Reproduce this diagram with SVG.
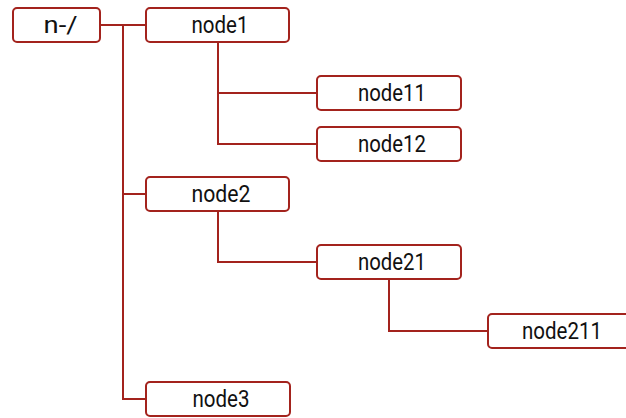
<svg xmlns="http://www.w3.org/2000/svg" width="626" height="418" viewBox="0 0 626 418">
<style>
.box{fill:#fff;stroke:#a3231d;stroke-width:2}
.lbl{font-family:Roboto,"Liberation Sans",sans-serif;font-size:23.5px;fill:#111;text-anchor:middle}
.ln{fill:none;stroke:#a3231d;stroke-width:2}
</style>
<rect width="626" height="418" fill="#fff"/>
<g id="connectors">
<path class="ln" d="M100,25 H146"/>
<path class="ln" d="M123,25 V399 H146"/>
<path class="ln" d="M123,194 H146"/>
<path class="ln" d="M218,42 V144 H317"/>
<path class="ln" d="M218,93 H317"/>
<path class="ln" d="M218,211 V262 H317"/>
<path class="ln" d="M389,279 V331 H488"/>
</g>
<g id="n-root"><rect class="box" x="13" y="8" width="87" height="34" rx="4"/><text class="lbl" x="60.5" y="33" textLength="34" lengthAdjust="spacingAndGlyphs">n-/</text></g>
<g id="node1"><rect class="box" x="146" y="8" width="143" height="34" rx="4"/><text class="lbl" x="220" y="33" textLength="57" lengthAdjust="spacingAndGlyphs">node1</text></g>
<g id="node11"><rect class="box" x="317" y="76" width="144" height="34" rx="4"/><text class="lbl" x="392" y="101" textLength="68" lengthAdjust="spacingAndGlyphs">node11</text></g>
<g id="node12"><rect class="box" x="317" y="127" width="144" height="34" rx="4"/><text class="lbl" x="392" y="152" textLength="68" lengthAdjust="spacingAndGlyphs">node12</text></g>
<g id="node2"><rect class="box" x="146" y="177" width="143" height="34" rx="4"/><text class="lbl" x="221" y="202" textLength="59" lengthAdjust="spacingAndGlyphs">node2</text></g>
<g id="node21"><rect class="box" x="317" y="245" width="144" height="34" rx="4"/><text class="lbl" x="392" y="270" textLength="68" lengthAdjust="spacingAndGlyphs">node21</text></g>
<g id="node211"><rect class="box" x="488" y="314" width="144" height="34" rx="4"/><text class="lbl" x="562" y="339" textLength="80" lengthAdjust="spacingAndGlyphs">node211</text></g>
<g id="node3"><rect class="box" x="146" y="382" width="144" height="34" rx="4"/><text class="lbl" x="221" y="407" textLength="57" lengthAdjust="spacingAndGlyphs">node3</text></g>
</svg>
